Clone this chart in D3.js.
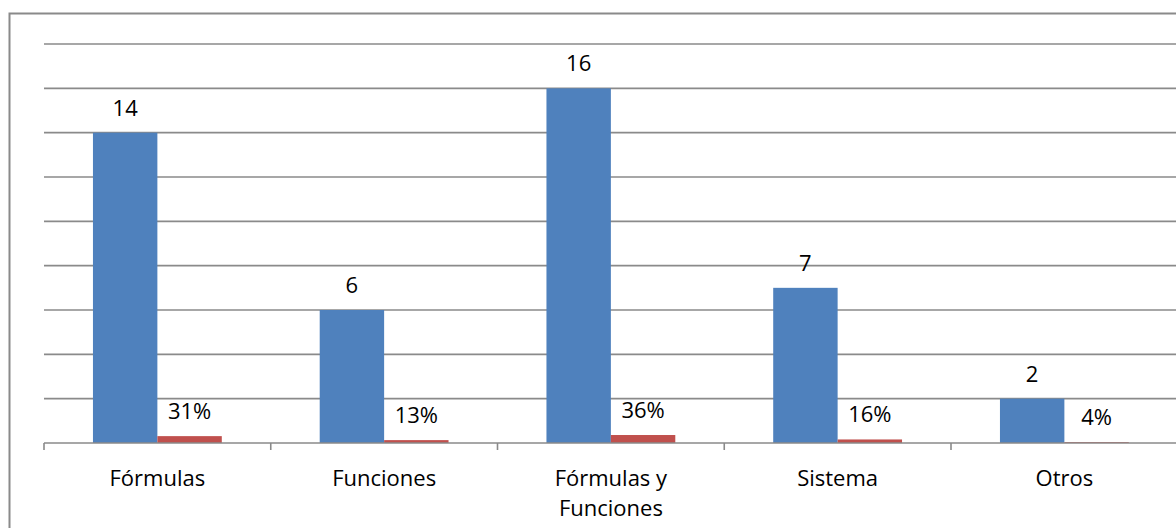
<!DOCTYPE html>
<html>
<head>
<meta charset="utf-8">
<script src="https://cdn.jsdelivr.net/npm/d3@7"></script>
<style>
  body { margin: 0; background: #fff; }
  text { font-family: "Open Sans", sans-serif; font-size: 22px; fill: #000; }
</style>
</head>
<body>
<svg id="chart" width="1176" height="528"></svg>
<script>
// values
var categories = ["Fórmulas", "Funciones", "Fórmulas y Funciones", "Sistema", "Otros"];
var counts = [14, 6, 16, 7, 2];
var shares = [0.31, 0.13, 0.36, 0.16, 0.04];
var shareLabels = ["31%", "13%", "36%", "16%", "4%"];
var yTicks = [0, 2, 4, 6, 8, 10, 12, 14, 16, 18];

var margin = {left: 44, top: 44, right: 1177.75, bottom: 443};
var svg = d3.select('#chart');

// outer frame (runs off the right and bottom of the picture)
svg.append("rect")
    .attr("x", 9.5).attr("y", 13.5)
    .attr("width", 1200).attr("height", 600)
    .attr("fill", "none")
    .attr("stroke", "#8a8a8a")
    .attr("stroke-width", 2);

var x0 = d3.scaleBand()
    .domain(categories)
    .range([margin.left, margin.right])
    .padding(0);

var x1 = d3.scaleBand()
    .domain(["count", "share"])
    .range([0, x0.bandwidth()])
    .paddingInner(0)
    .paddingOuter(0.76);

var ys = d3.scaleLinear()
    .domain([0, 18])
    .range([margin.bottom, margin.top]);

// gridlines
svg.append("g")
    .selectAll("line")
    .data(yTicks.slice(1))
    .enter()
    .append("line")
        .attr("x1", margin.left)
        .attr("x2", 1176)
        .attr("y1", d => ys(d))
        .attr("y2", d => ys(d))
        .attr("stroke", "#8a8a8a")
        .attr("stroke-width", 1.6);

var rows = categories.map((c, i) => ({cat: c, count: counts[i], share: shares[i], label: shareLabels[i]}));

var groups = svg.append("g")
    .selectAll("g")
    .data(rows)
    .enter()
    .append("g")
        .attr("transform", d => "translate(" + x0(d.cat) + ",0)");

groups.append("rect")
    .attr("x", x1("count"))
    .attr("y", d => ys(d.count))
    .attr("width", x1.bandwidth())
    .attr("height", d => ys(0) - ys(d.count))
    .attr("fill", "#4f81bd");

groups.append("rect")
    .attr("x", x1("share"))
    .attr("y", d => ys(d.share))
    .attr("width", x1.bandwidth())
    .attr("height", d => ys(0) - ys(d.share))
    .attr("fill", "#c0504d");

groups.append("text")
    .attr("x", x1("count") + x1.bandwidth() / 2)
    .attr("y", d => ys(d.count) - 17)
    .attr("text-anchor", "middle")
    .text(d => d.count);

groups.append("text")
    .attr("x", x1("share") + x1.bandwidth() / 2)
    .attr("y", d => ys(d.share) - 17)
    .attr("text-anchor", "middle")
    .text(d => d.label);

// x axis line and ticks
var axis = svg.append("g")
    .attr("transform", "translate(0," + margin.bottom + ")")
    .call(d3.axisBottom(x0).tickSize(0).tickFormat(""));
axis.select(".domain").remove();

axis.append("line")
    .attr("x1", margin.left).attr("x2", 1176)
    .attr("y1", 0).attr("y2", 0)
    .attr("stroke", "#8a8a8a")
    .attr("stroke-width", 1.6);

axis.selectAll(".edge")
    .data(categories.map(c => x0(c)).concat([margin.right]))
    .enter()
    .append("line")
        .attr("x1", d => d).attr("x2", d => d)
        .attr("y1", 0).attr("y2", 7)
        .attr("stroke", "#8a8a8a")
        .attr("stroke-width", 1.6);

// category labels, wrapped like the original
var catLabels = svg.append("g")
    .selectAll("text")
    .data(categories)
    .enter()
    .append("text")
        .attr("text-anchor", "middle")
        .attr("x", d => x0(d) + x0.bandwidth() / 2)
        .attr("y", 486);

catLabels.each(function(d) {
    var el = d3.select(this);
    var words = d.split(" ");
    var lines = [];
    var line = [];
    words.forEach(function(w) {
        line.push(w);
        if (line.join(" ").length > 12 && line.length > 1) {
            line.pop();
            lines.push(line.join(" "));
            line = [w];
        }
    });
    lines.push(line.join(" "));
    lines.forEach(function(l, i) {
        el.append("tspan")
            .attr("x", x0(d) + x0.bandwidth() / 2)
            .attr("dy", i == 0 ? 0 : 30)
            .text(l);
    });
});
</script>
</body>
</html>
